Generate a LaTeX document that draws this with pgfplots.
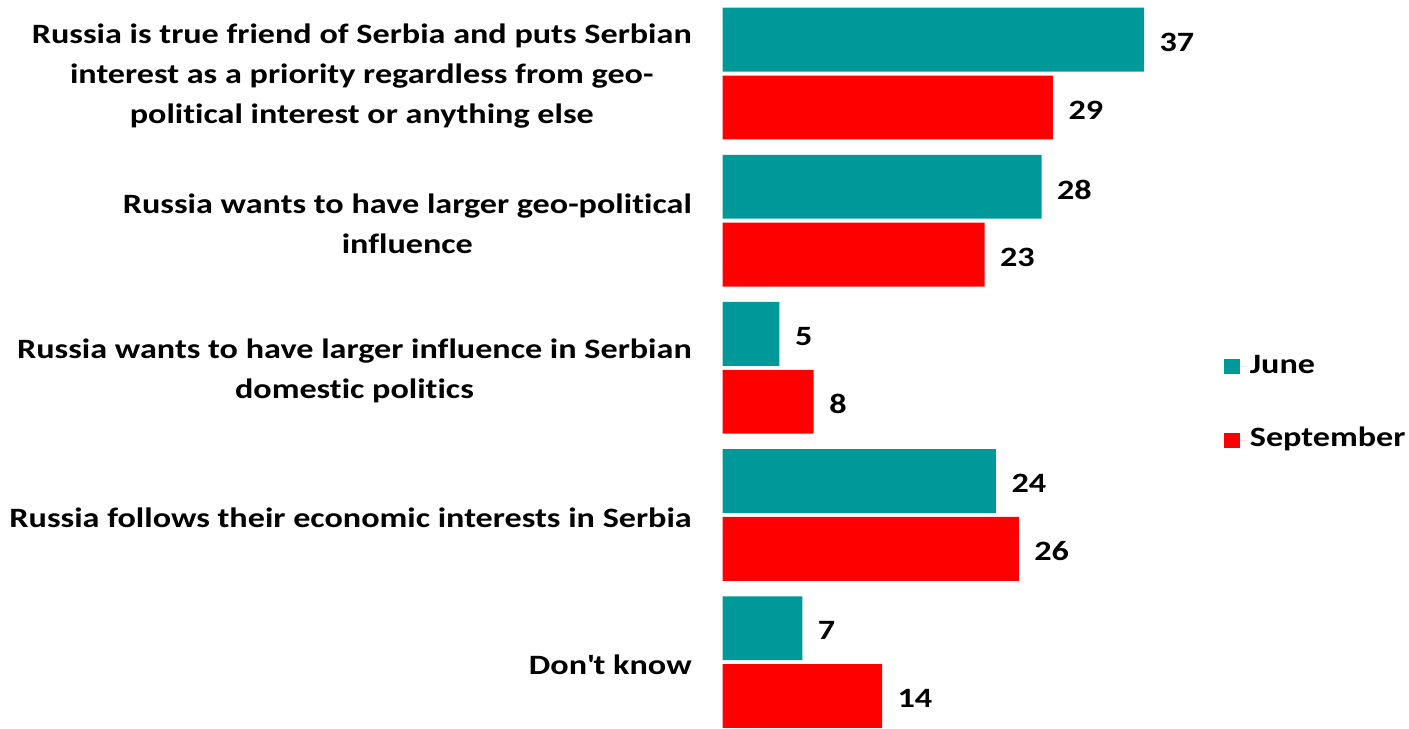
\documentclass[border=0pt]{standalone}
\usepackage{fontspec}
\setmainfont{Carlito}[FakeStretch=1.22, Ligatures=NoCommon]
\usepackage{pgfplots}
\pgfplotsset{compat=1.18}
\definecolor{juneC}{RGB}{0,153,153}
\definecolor{sepC}{RGB}{255,0,0}
\newcommand{\lblfont}{\fontsize{21}{30}\selectfont\bfseries}
\begin{document}
\begin{tikzpicture}
\begin{axis}[
  at={(0,0)}, anchor=south west,
  scale only axis, width=341.8pt, height=546pt,
  xbar, xmin=0, xmax=40, ymin=-0.5, ymax=4.448, y dir=reverse,
  clip=false,
  /pgf/number format/assume math mode=true,
  axis line style={draw=none}, tick style={draw=none}, major tick length=0pt,
  xtick=\empty, ytick={0,1,2,3,4},
  yticklabels={{Russia is true friend of Serbia and puts Serbian\\interest as a priority regardless from geo-\\political interest or anything else},
    {Russia wants to have larger geo-political\\influence},
    {Russia wants to have larger influence in Serbian\\domestic politics},
    {Russia follows their economic interests in Serbia},
    {Don\textquotesingle t know}},
  yticklabel style={font=\lblfont, align=center, inner sep=0pt, xshift=-22.9pt, yshift=-2pt},
  bar width=0.434,
  nodes near coords,
  nodes near coords style={font=\lblfont, anchor=west, inner sep=0pt, xshift=11.5pt, yshift=-2pt},
  legend image code/.code={\fill[#1] (0pt,-5.7pt) rectangle (12pt,5.7pt); \path (0pt,0pt) -- (17.5pt,0pt);},
  legend style={draw=none, at={(1,0.4512)}, anchor=west, xshift=34pt, yshift=-3pt,
    font=\lblfont, inner sep=0pt, row sep=31pt,
    nodes={text height=15pt, text depth=5pt}},
  legend cell align=left,
]
\addplot[fill=juneC, draw=none, bar shift=-0.2305] coordinates {(37,0) (28,1) (5,2) (24,3) (7,4)};
\addplot[fill=sepC, draw=none, bar shift=0.2305] coordinates {(29,0) (23,1) (8,2) (26,3) (14,4)};
\legend{June, September}
\end{axis}
\pgfresetboundingbox
\path (-541.9pt,0pt) rectangle (514.85pt,546pt);
\end{tikzpicture}
\end{document}
